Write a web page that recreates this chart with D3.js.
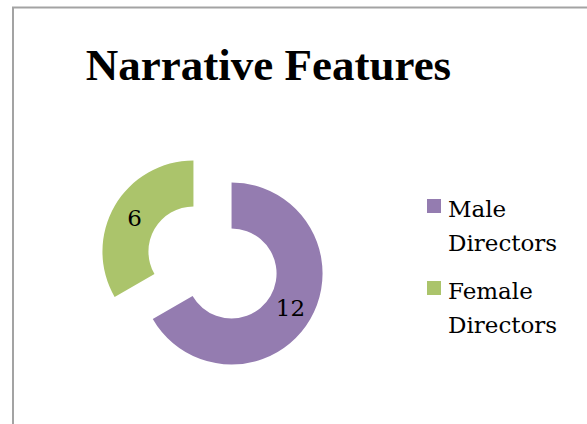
<!DOCTYPE html>
<html>
<head>
<meta charset="utf-8">
<script src="https://cdn.jsdelivr.net/npm/d3@7"></script>
<style>
  html, body { margin: 0; padding: 0; background: #fff; }
  svg { display: block; }
</style>
</head>
<body>
<svg id="chart" width="587" height="424"></svg>
<script>
const title = "Narrative Features";
const categories = ["Male Directors", "Female Directors"];
const legendLines = [["Male", "Directors"], ["Female", "Directors"]];
const values = [12, 6];
const colors = ["#947cb0", "#abc46b"];

const svg = d3.select("#chart");

// chart border (left and top visible)
svg.append("rect")
  .attr("x", 13).attr("y", 7.5)
  .attr("width", 600).attr("height", 500)
  .attr("fill", "#fff")
  .attr("stroke", "#a3a3a3")
  .attr("stroke-width", 2);

svg.append("text")
  .attr("x", 268.5).attr("y", 80)
  .attr("text-anchor", "middle")
  .attr("font-family", "'Liberation Serif', serif")
  .attr("font-weight", "bold")
  .attr("font-size", 45)
  .attr("fill", "#000")
  .text(title);

const cx = 212.5, cy = 262.5;
const outerR = 91, innerR = 45, explode = 22;

const pie = d3.pie().sort(null).value(d => d).startAngle(0).endAngle(2 * Math.PI);
const arcs = pie(values);
const arc = d3.arc().innerRadius(innerR).outerRadius(outerR);

const g = svg.append("g").attr("transform", `translate(${cx},${cy})`);

const slices = g.selectAll("g.slice").data(arcs).enter().append("g")
  .attr("class", "slice")
  .attr("transform", d => {
    const a = (d.startAngle + d.endAngle) / 2;
    return `translate(${Math.sin(a) * explode},${-Math.cos(a) * explode})`;
  });

slices.append("path")
  .attr("d", arc)
  .attr("fill", (d, i) => colors[i]);

slices.append("text")
  .attr("transform", d => `translate(${arc.centroid(d)})`)
  .attr("text-anchor", "middle")
  .attr("dy", "0.36em")
  .attr("font-family", "'DejaVu Serif', serif")
  .attr("font-size", 23)
  .attr("fill", "#000")
  .text(d => d.data);

// legend
const legendY = [199, 281];
const legend = svg.append("g");
categories.forEach((c, i) => {
  const lg = legend.append("g").attr("transform", `translate(427,${legendY[i]})`);
  lg.append("rect").attr("width", 14).attr("height", 14).attr("fill", colors[i]);
  const t = lg.append("text")
    .attr("font-family", "'DejaVu Serif', serif")
    .attr("font-size", 23)
    .attr("fill", "#000");
  legendLines[i].forEach((ln, j) => {
    t.append("tspan").attr("x", 21).attr("y", 18 + j * 34).text(ln);
  });
});
</script>
</body>
</html>
